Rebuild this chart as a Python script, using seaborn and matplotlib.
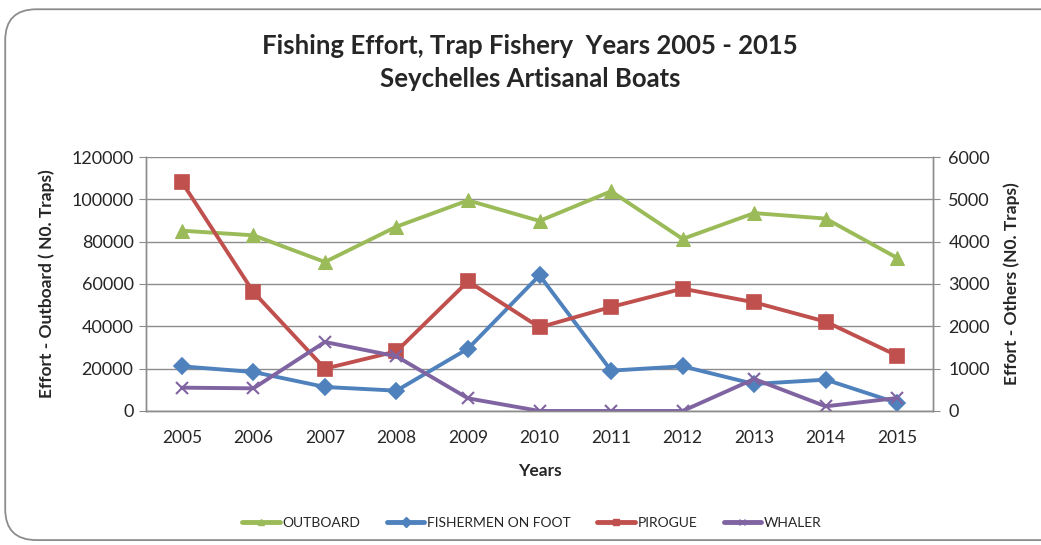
import numpy as np
import pandas as pd
import seaborn as sns
import matplotlib.pyplot as plt
from matplotlib.lines import Line2D
from matplotlib.patches import FancyBboxPatch

# Data
years = [2005, 2006, 2007, 2008, 2009, 2010, 2011, 2012, 2013, 2014, 2015]
outboard = [85200, 83000, 70400, 87100, 99500, 89800, 103800, 81300, 93500, 90900, 72300]
fishermen_on_foot = [1055, 921, 567, 480, 1472, 3205, 953, 1055, 638, 740, 189]
pirogue = [5409, 2811, 1000, 1409, 3063, 1976, 2457, 2890, 2567, 2110, 1307]
whaler = [551, 535, 1630, 1291, 299, 0, 0, 0, 756, 110, 307]

df = pd.DataFrame({
    'pos': np.arange(len(years)),
    'OUTBOARD': outboard,
    'FISHERMEN ON FOOT': fishermen_on_foot,
    'PIROGUE': pirogue,
    'WHALER': whaler,
})

colors = {
    'OUTBOARD': '#9BBB59',
    'FISHERMEN ON FOOT': '#4F81BD',
    'PIROGUE': '#C0504D',
    'WHALER': '#8064A2',
}
markers = {
    'OUTBOARD': '^',
    'FISHERMEN ON FOOT': 'D',
    'PIROGUE': 's',
    'WHALER': 'x',
}
msizes = {'OUTBOARD': 10, 'FISHERMEN ON FOOT': 8, 'PIROGUE': 9.5, 'WHALER': 9}

sns.set_style("white")
plt.rcParams['font.family'] = ['Lato', 'DejaVu Sans']

fig = plt.figure(figsize=(10.41, 5.45), dpi=100)
ax = fig.add_axes([0.1403, 0.2459, 0.756, 0.466])
ax2 = ax.twinx()

# Outboard on the left axis
sns.lineplot(data=df, x='pos', y='OUTBOARD', ax=ax, color=colors['OUTBOARD'],
             marker=markers['OUTBOARD'], markersize=msizes['OUTBOARD'],
             markeredgecolor=colors['OUTBOARD'], linewidth=2.8, legend=False, zorder=3)

# The others on the right axis
for name in ['FISHERMEN ON FOOT', 'PIROGUE', 'WHALER']:
    sns.lineplot(data=df, x='pos', y=name, ax=ax2, color=colors[name],
                 marker=markers[name], markersize=msizes[name],
                 markeredgecolor=colors[name], markeredgewidth=1.2 if name != 'WHALER' else 1.5,
                 linewidth=2.8, legend=False)

ax.set_ylim(0, 120000)
ax2.set_ylim(0, 6000)
ax.set_xlim(-0.5, len(years) - 0.5)
ax.set_yticks(np.arange(0, 120001, 20000))
ax2.set_yticks(np.arange(0, 6001, 1000))

ax.set_xticks(np.arange(len(years)))
ax.set_xticklabels([str(y) for y in years])
ax.set_xticks(np.arange(-0.5, len(years)), minor=True)
ax.tick_params(axis='x', which='major', length=0, pad=14, labelsize=12.5)
ax.tick_params(axis='x', which='minor', length=5, direction='out', color='#8c8c8c')
ax.tick_params(axis='y', length=5, direction='out', color='#8c8c8c', labelsize=13, pad=4)
ax2.tick_params(axis='y', length=5, direction='out', color='#8c8c8c', labelsize=13, pad=6)

ax.yaxis.grid(True, color='#8c8c8c', linewidth=1)
ax.set_axisbelow(True)

for a in (ax, ax2):
    for side in ['left', 'right', 'bottom']:
        a.spines[side].set_color('#8c8c8c')
        a.spines[side].set_linewidth(1)
    a.spines['top'].set_visible(False)

ax.set_xlabel('Years', fontsize=12.5, fontweight='bold', labelpad=12)
ax.set_ylabel('Effort - Outboard ( N0. Traps)', fontsize=12.5, fontweight='bold', labelpad=12)
ax2.set_ylabel('Effort - Others (N0. Traps)', fontsize=12.5, fontweight='bold', labelpad=10)

fig.text(0.509, 0.915, 'Fishing Effort, Trap Fishery  Years 2005 - 2015',
         ha='center', va='center', fontsize=18.5, fontweight='bold')
fig.text(0.509, 0.855, 'Seychelles Artisanal Boats',
         ha='center', va='center', fontsize=18.5, fontweight='bold')

handles = [Line2D([0], [0], color=colors[n], marker=markers[n], linewidth=3.5,
                  markersize=5, markeredgecolor=colors[n]) for n in colors]
fig.legend(handles, list(colors.keys()), loc='center', bbox_to_anchor=(0.511, 0.04),
           ncol=4, frameon=False, fontsize=10, handlelength=2.7, columnspacing=1.9,
           handletextpad=0.2)

border = FancyBboxPatch((0.005, 0.009), 1.05, 0.974, boxstyle='round,pad=0,rounding_size=0.03',
                        transform=fig.transFigure, facecolor='none', edgecolor='#8c8c8c',
                        linewidth=1.3, mutation_aspect=1.9, clip_on=False)
fig.patches.append(border)

fig.savefig('out.png', dpi=100)
